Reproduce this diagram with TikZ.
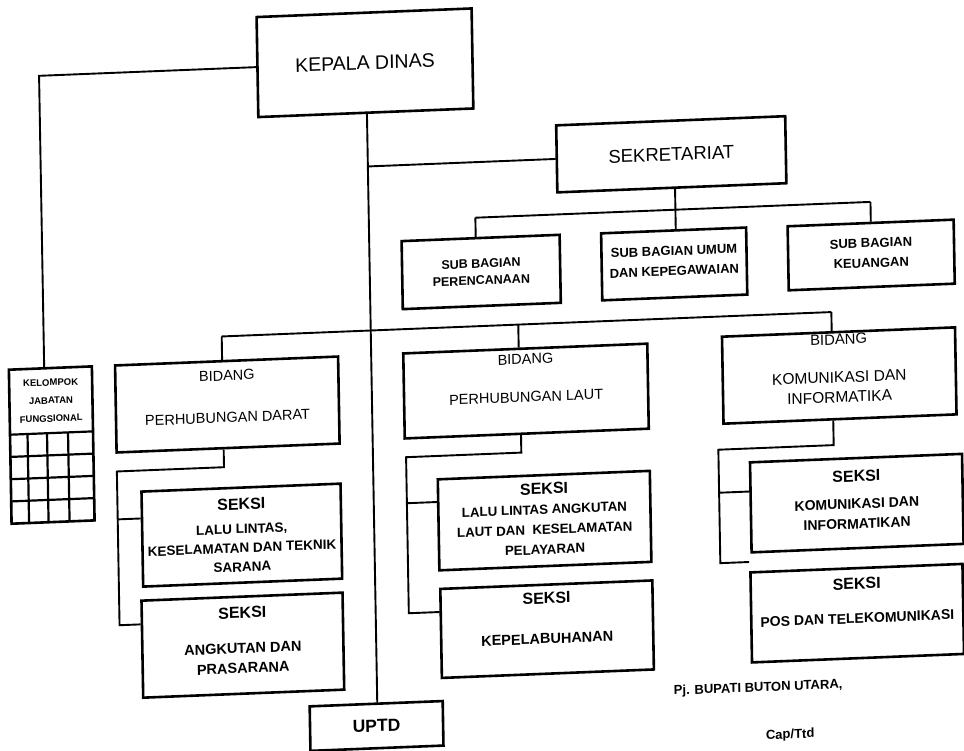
\documentclass[tikz,border=0pt]{standalone}
\usepackage{fontspec}
\setmainfont{Liberation Sans}
\begin{document}
\begin{tikzpicture}[x=1pt,y=-1pt,
  box/.style={draw, rectangle, line width=2.6pt, inner sep=0pt, align=center},
  link/.style={line width=1.9pt},
  grid/.style={line width=2.2pt},
  lbl/.style={inner sep=0pt, align=center},
  big/.style={font=\fontsize{19.5}{22}\selectfont},
  bid/.style={font=\fontsize{14.5}{17}\selectfont},
  sub/.style={font=\bfseries\fontsize{13}{20}\selectfont},
  sek/.style={font=\bfseries\fontsize{13.5}{20}\selectfont},
]
\useasboundingbox (0,0) rectangle (964,750);
% the whole chart sits slightly skewed on the page
\begin{scope}[cm={1,0.040,-0.0175,1,(-6.56pt,-19.28pt)}, transform shape]

% ---- head and secretariat ----
\node[box, big, minimum width=215pt, minimum height=100pt] (kep) at (370.5,58.3) {KEPALA DINAS};
\node[box, font=\fontsize{18.5}{22}\selectfont, minimum width=229pt, minimum height=67pt] (sek) at (675,162) {SEKRETARIAT};

\node[box, font=\bfseries\fontsize{12.5}{17}\selectfont, minimum width=158pt, minimum height=68pt] (per) at (483,272) {SUB BAGIAN\\PERENCANAAN};
\node[box, sub, minimum width=145pt, minimum height=67pt] (umum) at (676,271.7) {};
\node[lbl, sub] (umum-t) at (676,268.7) {SUB BAGIAN UMUM\\DAN KEPEGAWAIAN};
\node[box, sub, minimum width=166pt, minimum height=64pt] (keu) at (873,270.6) {};
\node[lbl, sub] (keu-t) at (873,268.6) {SUB BAGIAN\\KEUANGAN};

% ---- functional group ----
\node[box, minimum width=83pt, minimum height=154pt] (kel) at (50.8,427.8) {};
\node[lbl, font=\bfseries\fontsize{9.5}{18}\selectfont] (kel-t) at (50.8,383.3) {KELOMPOK\\JABATAN\\FUNGSIONAL};
\draw[grid] (9.3,415.8) -- (92.3,415.8);
\foreach \yy in {438,460.3,482.5} \draw[grid] (9.3,\yy) -- (92.3,\yy);
\foreach \xx in {26.8,46.3,67.3} \draw[grid] (\xx,415.8) -- (\xx,504.8);

% ---- divisions ----
\node[box, minimum width=223pt, minimum height=87pt] (darat) at (227,394.3) {};
\node[lbl, bid] (darat-t) at (227,386.3) {BIDANG\\[25pt]PERHUBUNGAN DARAT};

\node[box, minimum width=244pt, minimum height=85pt] (laut) at (525.7,392.8) {};
\node[lbl, bid] (laut-t) at (525.7,379.8) {BIDANG\\[21pt]PERHUBUNGAN LAUT};

\node[box, minimum width=233pt, minimum height=87pt] (kom) at (839,389.8) {};
\node[lbl, font=\fontsize{15.5}{20}\selectfont] (kom-t) at (839,382.8)
  {{\fontsize{14.8}{20}\selectfont BIDANG}\\[18pt]KOMUNIKASI DAN\\INFORMATIKA};

% ---- sections ----
\node[box, minimum width=199pt, minimum height=95pt] (sd1) at (239.2,525.4) {};
\node[lbl, sek, font=\bfseries\fontsize{13.5}{19}\selectfont] (sd1-t) at (239.2,525.4)
  {{\fontsize{16}{19}\selectfont SEKSI}\\[5pt]LALU LINTAS,\\KESELAMATAN DAN TEKNIK\\SARANA};
\node[box, minimum width=201pt, minimum height=97pt] (sd2) at (238.3,635.4) {};
\node[lbl, font=\bfseries\fontsize{14.5}{20}\selectfont] (sd2-t) at (238.3,630.4)
  {{\fontsize{16}{20}\selectfont SEKSI}\\[15pt]ANGKUTAN DAN\\PRASARANA};

\node[box, minimum width=212pt, minimum height=91pt] (sl1) at (542,523) {};
\node[lbl, font=\bfseries\fontsize{13.3}{20}\selectfont] (sl1-t) at (542,521)
  {{\fontsize{16}{20}\selectfont SEKSI}\\LALU LINTAS ANGKUTAN\\LAUT DAN\ \ KESELAMATAN\\PELAYARAN};
\node[box, minimum width=212pt, minimum height=89pt] (sl2) at (542.6,631.6) {};
\node[lbl, font=\bfseries\fontsize{14.5}{20}\selectfont] (sl2-t) at (542.6,620.6)
  {{\fontsize{16}{20}\selectfont SEKSI}\\[20pt]KEPELABUHANAN};

\node[box, minimum width=212pt, minimum height=90pt] (sk1) at (854.3,518) {};
\node[lbl, font=\bfseries\fontsize{14}{20}\selectfont] (sk1-t) at (854.3,514.5)
  {{\fontsize{16}{20}\selectfont SEKSI}\\[7pt]KOMUNIKASI DAN\\INFORMATIKAN};
\node[box, minimum width=212pt, minimum height=90pt] (sk2) at (852.8,628) {};
\node[lbl, font=\bfseries\fontsize{14}{20}\selectfont] (sk2-t) at (852.8,615.5)
  {{\fontsize{16}{20}\selectfont SEKSI}\\[14pt]POS DAN TELEKOMUNIKASI};

\node[box, font=\bfseries\fontsize{17.5}{20}\selectfont, minimum width=133pt, minimum height=44.5pt] (uptd) at (370.5,721.5) {UPTD};

% ---- signature ----
\node[lbl, font=\bfseries\fontsize{13}{15}\selectfont] (pj) at (752.5,699) {Pj. BUPATI BUTON UTARA,};
\node[lbl, font=\bfseries\fontsize{13}{15}\selectfont] (cap) at (783.7,747.3) {Cap/Ttd};

% ---- connectors ----
\coordinate (kx) at (371.5,0);
\coordinate (kl) at (44.6,0);
\draw[link] (kep.south -| kx) -- (kx |- uptd.north);
\draw[link] (kx |- sek.west) -- (sek.west);
\draw[link] (kep.west) -- (kl |- kep.west) -- (kl |- kel.north);

\coordinate (sbl) at (478,217.5);
\coordinate (sbm) at (678,217.5);
\coordinate (sbr) at (873,217.5);
\draw[link] (sek.south -| sbm) -- (sbm |- umum.north);
\draw[link] (sbl) -- (sbr);
\draw[link] (sbl) -- (sbl |- per.north);
\draw[link] (sbr) -- (sbr |- keu.north);

\coordinate (bbl) at (222.5,326);
\coordinate (bbm) at (519,326);
\coordinate (bbr) at (832,326);
\draw[link] (bbl) -- (bbr);
\draw[link] (bbl) -- (bbl |- darat.north);
\draw[link] (bbm) -- (bbm |- laut.north);
\draw[link] (bbr) -- (bbr |- kom.north);

\coordinate (dd1) at (222.5,456.7);
\coordinate (dd2) at (115.4,456.7);
\coordinate (db1) at (115.4,504.6);
\coordinate (db2) at (115.4,610.4);
\draw[link] (darat.south -| dd1) -- (dd1) -- (dd2) -- (db2) -- (db2 -| sd2.west);
\draw[link] (db1) -- (db1 -| sd1.west);

\coordinate (ld1) at (519.8,454);
\coordinate (ld2) at (404.6,454);
\coordinate (lb1) at (404.6,500);
\coordinate (lb2) at (404.6,610);
\draw[link] (laut.south -| ld1) -- (ld1) -- (ld2) -- (lb2) -- (lb2 -| sl2.west);
\draw[link] (lb1) -- (lb1 -| sl1.west);

\coordinate (kd1) at (832,459);
\coordinate (kd2) at (716.7,459);
\coordinate (kb1) at (716.7,502);
\coordinate (kb2) at (716.7,572.4);
\draw[link] (kom.south -| kd1) -- (kd1) -- (kd2) -- (kb2) -- (kb2 -| sk2.west);
\draw[link] (kb1) -- (kb1 -| sk1.west);

\end{scope}
\end{tikzpicture}
\end{document}
